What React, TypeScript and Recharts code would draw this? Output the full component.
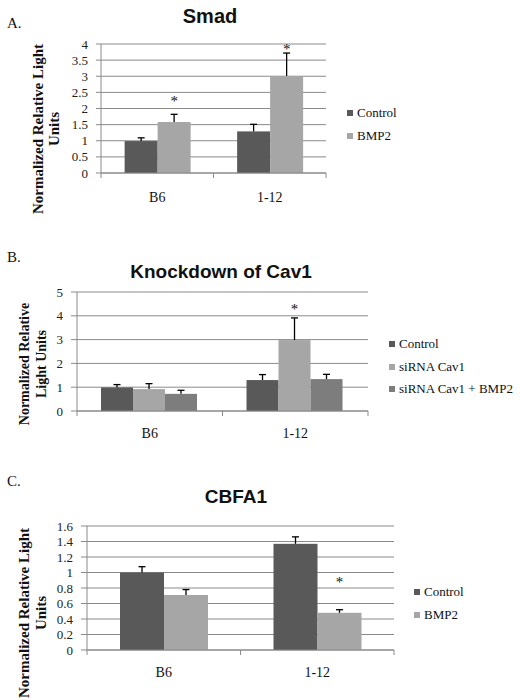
import React from 'react';
import { BarChart, Bar, XAxis, YAxis, CartesianGrid, Legend } from 'recharts';

const SERIF = '"Liberation Serif", "Times New Roman", serif';
const SANS = '"Liberation Sans", Arial, sans-serif';

const DARK = '#595959';
const LIGHT = '#a6a6a6';
const MID = '#7d7d7d';
const GRID = '#8a8a8a';

// A. Smad
const smadGroups = ['B6', '1-12'];
const smadControl = [0.99, 1.29];
const smadControlErr = [0.1, 0.22];
const smadBmp2 = [1.58, 3.01];
const smadBmp2Err = [0.24, 0.71];
const smadStar = [2.3, 3.92];
const smadTicks = [0, 0.5, 1, 1.5, 2, 2.5, 3, 3.5, 4];

// B. Knockdown of Cav1
const cavGroups = ['B6', '1-12'];
const cavControl = [0.99, 1.3];
const cavControlErr = [0.12, 0.23];
const cavSirna = [0.92, 2.98];
const cavSirnaErr = [0.23, 0.93];
const cavSirnaBmp2 = [0.72, 1.34];
const cavSirnaBmp2Err = [0.15, 0.2];
const cavStar = [null, 4.38];
const cavTicks = [0, 1, 2, 3, 4, 5];

// C. CBFA1
const cbfaGroups = ['B6', '1-12'];
const cbfaControl = [1.0, 1.37];
const cbfaControlErr = [0.075, 0.09];
const cbfaBmp2 = [0.71, 0.48];
const cbfaBmp2Err = [0.07, 0.04];
const cbfaStar = [null, 0.9];
const cbfaTicks = [0, 0.2, 0.4, 0.6, 0.8, 1, 1.2, 1.4, 1.6];

const smadData = smadGroups.map((g, i) => ({
    group: g,
    control: smadControl[i], controlErr: smadControlErr[i],
    bmp2: smadBmp2[i], bmp2Err: smadBmp2Err[i], bmp2Star: smadStar[i],
}));

const cavData = cavGroups.map((g, i) => ({
    group: g,
    control: cavControl[i], controlErr: cavControlErr[i],
    sirna: cavSirna[i], sirnaErr: cavSirnaErr[i], sirnaStar: cavStar[i],
    sirnaBmp2: cavSirnaBmp2[i], sirnaBmp2Err: cavSirnaBmp2Err[i],
}));

const cbfaData = cbfaGroups.map((g, i) => ({
    group: g,
    control: cbfaControl[i], controlErr: cbfaControlErr[i],
    bmp2: cbfaBmp2[i], bmp2Err: cbfaBmp2Err[i], bmp2Star: cbfaStar[i],
}));

// bar with an upward-only error bar and optional significance star
const makeShape = (fill: string, valKey: string, errKey: string, starKey?: string) => (props: any) => {
    const { x, y, width, height, payload } = props;
    const v = payload[valKey];
    const ppu = v ? height / v : 0;
    const cx = x + width / 2;
    const errTop = y - payload[errKey] * ppu;
    const base = y + height;
    const star = starKey ? payload[starKey] : null;
    return (
        <g>
            <rect x={x} y={y} width={width} height={height} fill={fill} />
            <line x1={cx} x2={cx} y1={y} y2={errTop} stroke="#000" strokeWidth={1.3} />
            <line x1={cx - 3.5} x2={cx + 3.5} y1={errTop} y2={errTop} stroke="#000" strokeWidth={1.3} />
            {star != null && (
                <text x={cx} y={base - star * ppu + 7} textAnchor="middle" fontFamily={SERIF} fontSize={15} fill="#111">*</text>
            )}
        </g>
    );
};

const CatTick = (props: any) => {
    const { x, y, payload, labelDy } = props;
    const half = payload.offset ?? (props.width ? props.width / 4 : 0);
    return (
        <g>
            <line x1={x - half} x2={x - half} y1={y} y2={y + 5} stroke={GRID} />
            <line x1={x + half} x2={x + half} y1={y} y2={y + 5} stroke={GRID} />
            <text x={x} y={y + labelDy} textAnchor="middle" fontFamily={SERIF} fontSize={14} fill="#111">{payload.value}</text>
        </g>
    );
};

const LegendBox = ({ items, rowH }: { items: { name: string; color: string }[]; rowH: number }) => (
    <div style={{ fontFamily: SERIF, fontSize: 13, color: '#111' }}>
        {items.map(it => (
            <div key={it.name} style={{ display: 'flex', alignItems: 'center', height: rowH, whiteSpace: 'nowrap' }}>
                <span style={{ display: 'inline-block', width: 6, height: 6, background: it.color, marginRight: 4 }} />
                {it.name}
            </div>
        ))}
    </div>
);

const yTick = { fill: '#222', fontSize: 13, fontFamily: SERIF };

const App: React.FC = () => {
    return (
        <div style={{ position: 'absolute', left: 0, top: 0, width: 520, height: 700, background: '#fff', overflow: 'hidden' }}>
            {/* A */}
            <div style={{ position: 'absolute', left: 0, top: 0 }}>
                <BarChart width={520} height={215} data={smadData} margin={{ top: 44, right: 194, left: 61, bottom: 12 }}
                    barCategoryGap="21%" barGap={0}>
                    <CartesianGrid vertical={false} stroke={GRID} />
                    <XAxis dataKey="group" height={30} axisLine={{ stroke: GRID }} tickLine={false} tickSize={0} tickMargin={0}
                        tick={<CatTick labelDy={29} />} interval={0} />
                    <YAxis width={40} domain={[0, 4]} ticks={smadTicks} interval={0} tick={yTick}
                        axisLine={{ stroke: GRID }} tickLine={{ stroke: GRID }} tickSize={5} tickMargin={8} />
                    <Legend layout="horizontal" verticalAlign="middle" align="center"
                        wrapperStyle={{ left: 347, top: 101.5, width: 'auto' }}
                        content={() => <LegendBox rowH={23} items={[{ name: 'Control', color: DARK }, { name: 'BMP2', color: LIGHT }]} />} />
                    <Bar dataKey="control" fill={DARK} isAnimationActive={false} shape={makeShape(DARK, 'control', 'controlErr')} />
                    <Bar dataKey="bmp2" fill={LIGHT} isAnimationActive={false} shape={makeShape(LIGHT, 'bmp2', 'bmp2Err', 'bmp2Star')} />
                </BarChart>
            </div>

            {/* B */}
            <div style={{ position: 'absolute', left: 0, top: 215 }}>
                <BarChart width={520} height={230} data={cavData} margin={{ top: 77, right: 152, left: 47, bottom: 4 }}
                    barCategoryGap="16.5%" barGap={0}>
                    <CartesianGrid vertical={false} stroke={GRID} />
                    <XAxis dataKey="group" height={30} axisLine={{ stroke: GRID }} tickLine={false} tickSize={0} tickMargin={0}
                        tick={<CatTick labelDy={27} />} interval={0} />
                    <YAxis width={30} domain={[0, 5]} ticks={cavTicks} interval={0} tick={yTick}
                        axisLine={{ stroke: GRID }} tickLine={{ stroke: GRID }} tickSize={6} tickMargin={8} />
                    <Legend layout="horizontal" verticalAlign="middle" align="center"
                        wrapperStyle={{ left: 389, top: 117.75, width: 'auto' }}
                        content={() => <LegendBox rowH={22.5} items={[
                            { name: 'Control', color: DARK },
                            { name: 'siRNA Cav1', color: LIGHT },
                            { name: 'siRNA Cav1 + BMP2', color: MID },
                        ]} />} />
                    <Bar dataKey="control" fill={DARK} isAnimationActive={false} shape={makeShape(DARK, 'control', 'controlErr')} />
                    <Bar dataKey="sirna" fill={LIGHT} isAnimationActive={false} shape={makeShape(LIGHT, 'sirna', 'sirnaErr', 'sirnaStar')} />
                    <Bar dataKey="sirnaBmp2" fill={MID} isAnimationActive={false} shape={makeShape(MID, 'sirnaBmp2', 'sirnaBmp2Err')} />
                </BarChart>
            </div>

            {/* C */}
            <div style={{ position: 'absolute', left: 0, top: 445 }}>
                <BarChart width={520} height={255} data={cbfaData} margin={{ top: 81, right: 126, left: 47, bottom: 20 }}
                    barCategoryGap="21.5%" barGap={0}>
                    <CartesianGrid vertical={false} stroke={GRID} />
                    <XAxis dataKey="group" height={30} axisLine={{ stroke: GRID }} tickLine={false} tickSize={0} tickMargin={0}
                        tick={<CatTick labelDy={27} />} interval={0} />
                    <YAxis width={40} domain={[0, 1.6]} ticks={cbfaTicks} interval={0} tick={yTick}
                        axisLine={{ stroke: GRID }} tickLine={{ stroke: GRID }} tickSize={6} tickMargin={8} />
                    <Legend layout="horizontal" verticalAlign="middle" align="center"
                        wrapperStyle={{ left: 414, top: 135.75, width: 'auto' }}
                        content={() => <LegendBox rowH={22.5} items={[{ name: 'Control', color: DARK }, { name: 'BMP2', color: LIGHT }]} />} />
                    <Bar dataKey="control" fill={DARK} isAnimationActive={false} shape={makeShape(DARK, 'control', 'controlErr')} />
                    <Bar dataKey="bmp2" fill={LIGHT} isAnimationActive={false} shape={makeShape(LIGHT, 'bmp2', 'bmp2Err', 'bmp2Star')} />
                </BarChart>
            </div>

            {/* titles, panel letters, y-axis labels */}
            <svg width={520} height={700} style={{ position: 'absolute', left: 0, top: 0, pointerEvents: 'none' }}>
                <text x={7} y={28} fontFamily={SERIF} fontSize={15} fill="#111">A.</text>
                <text x={7} y={262} fontFamily={SERIF} fontSize={15} fill="#111">B.</text>
                <text x={7} y={486} fontFamily={SERIF} fontSize={15} fill="#111">C.</text>

                <text x={210} y={23} textAnchor="middle" fontFamily={SANS} fontWeight="bold" fontSize={20} fill="#111">Smad</text>
                <text x={221} y={278} textAnchor="middle" fontFamily={SANS} fontWeight="bold" fontSize={19} fill="#111">Knockdown of Cav1</text>
                <text x={236} y={503} textAnchor="middle" fontFamily={SANS} fontWeight="bold" fontSize={19} fill="#111">CBFA1</text>

                <g fontFamily={SERIF} fontWeight="bold" fontSize={15} fill="#111" textAnchor="middle" dominantBaseline="central">
                    <text x={38} y={129} transform="rotate(-90 38 129)">Normalized Relative Light</text>
                    <text x={54} y={129} transform="rotate(-90 54 129)">Units</text>
                    <text x={24} y={364} fontSize={14} transform="rotate(-90 24 364)">Normalized Relative</text>
                    <text x={41} y={364} fontSize={14} transform="rotate(-90 41 364)">Light Units</text>
                    <text x={24} y={613} transform="rotate(-90 24 613)">Normalized Relative Light</text>
                    <text x={41} y={613} transform="rotate(-90 41 613)">Units</text>
                </g>
            </svg>
        </div>
    );
};

export default App;
